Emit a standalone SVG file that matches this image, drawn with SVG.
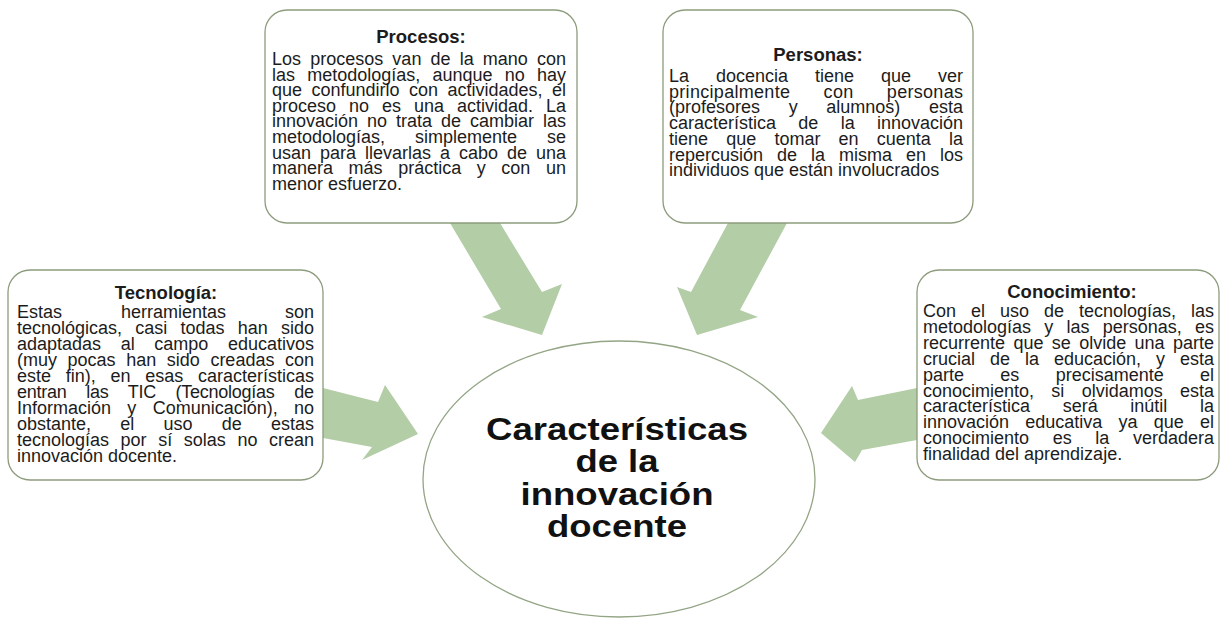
<svg xmlns="http://www.w3.org/2000/svg" width="1222" height="618" viewBox="0 0 1222 618">
<style>
.box{fill:#ffffff;stroke:#8c9c7c;stroke-width:1.3}
.arrow{fill:#b3cda6}
.ell{fill:#ffffff;stroke:#93a585;stroke-width:1.3}
.t{font-family:"Liberation Sans",Arial,sans-serif;font-size:18px;fill:#1c1c1c}
.h{font-family:"Liberation Sans",Arial,sans-serif;font-size:18.5px;font-weight:bold;fill:#1c1c1c;text-anchor:middle}
.c{font-family:"Liberation Sans",Arial,sans-serif;font-size:31px;font-weight:bold;fill:#111111;text-anchor:middle}
</style>
<rect width="1222" height="618" fill="#ffffff"/>
<g id="connectors">
<polygon class="arrow" points="450,223 500,223 542,292 562,284 542,335 482,317 501,309"/>
<polygon class="arrow" points="728,223 787,223 740,310 758,317 697,335 677,287 691,292"/>
<polygon class="arrow" points="323,388 378,402 385,385 418,434 362,460 372,447 323,438"/>
<polygon class="arrow" points="917,388 858,400 852,386 821,433 855,462 862,450 917,440"/>
</g>
<g id="centro">
<ellipse class="ell" cx="619" cy="479" rx="196" ry="138"/>
<text class="c" x="617" y="440" textLength="262" lengthAdjust="spacingAndGlyphs">Características</text>
<text class="c" x="617" y="472" textLength="83" lengthAdjust="spacingAndGlyphs">de la</text>
<text class="c" x="617" y="505" textLength="193" lengthAdjust="spacingAndGlyphs">innovación</text>
<text class="c" x="617" y="537" textLength="140" lengthAdjust="spacingAndGlyphs">docente</text>
</g>
<g id="procesos">
<rect class="box" x="265" y="10" width="312" height="213" rx="22"/>
<text class="h" x="421" y="43">Procesos:</text>
<text class="t" x="272" y="65" textLength="294" style="word-spacing:4.1px">Los procesos van de la mano con</text>
<text class="t" x="272" y="80.6" textLength="294" style="word-spacing:7.2px">las metodologías, aunque no hay</text>
<text class="t" x="272" y="96.2" textLength="294" style="word-spacing:4.5px">que confundirlo con actividades, el</text>
<text class="t" x="272" y="111.8" textLength="294" style="word-spacing:8px">proceso no es una actividad. La</text>
<text class="t" x="272" y="127.4" textLength="294" style="word-spacing:4px">innovación no trata de cambiar las</text>
<text class="t" x="272" y="143" textLength="294" style="word-spacing:25px">metodologías, simplemente se</text>
<text class="t" x="272" y="158.6" textLength="294" style="word-spacing:4px">usan para llevarlas a cabo de una</text>
<text class="t" x="272" y="174.2" textLength="294" style="word-spacing:10.6px">manera más práctica y con un</text>
<text class="t" x="272" y="189.8">menor esfuerzo.</text>
</g>
<g id="personas">
<rect class="box" x="663" y="10" width="310" height="213" rx="22"/>
<text class="h" x="818" y="61">Personas:</text>
<text class="t" x="669" y="82" textLength="294" style="word-spacing:22px">La docencia tiene que ver</text>
<text class="t" x="669" y="97.7" textLength="294" style="word-spacing:28px">principalmente con personas</text>
<text class="t" x="669" y="113.4" textLength="294" style="word-spacing:23.6px">(profesores y alumnos) esta</text>
<text class="t" x="669" y="129.1" textLength="294" style="word-spacing:17.3px">característica de la innovación</text>
<text class="t" x="669" y="144.8" textLength="294" style="word-spacing:13.2px">tiene que tomar en cuenta la</text>
<text class="t" x="669" y="160.5" textLength="294" style="word-spacing:9px">repercusión de la misma en los</text>
<text class="t" x="669" y="176.2">individuos que están involucrados</text>
</g>
<g id="tecnologia">
<rect class="box" x="8" y="270" width="315" height="210" rx="22"/>
<text class="h" x="166" y="299">Tecnología:</text>
<text class="t" x="17" y="318" textLength="297" style="word-spacing:54px">Estas herramientas son</text>
<text class="t" x="17" y="334" textLength="297" style="word-spacing:8.2px">tecnológicas, casi todas han sido</text>
<text class="t" x="17" y="350" textLength="297" style="word-spacing:14.6px">adaptadas al campo educativos</text>
<text class="t" x="17" y="366" textLength="297" style="word-spacing:5.6px">(muy pocas han sido creadas con</text>
<text class="t" x="17" y="382" textLength="297" style="word-spacing:9.7px">este fin), en esas características</text>
<text class="t" x="17" y="398" textLength="297" style="word-spacing:14.9px">entran las TIC (Tecnologías de</text>
<text class="t" x="17" y="414" textLength="297" style="word-spacing:11.3px">Información y Comunicación), no</text>
<text class="t" x="17" y="430" textLength="297" style="word-spacing:24.2px">obstante, el uso de estas</text>
<text class="t" x="17" y="446" textLength="297" style="word-spacing:6.6px">tecnologías por sí solas no crean</text>
<text class="t" x="17" y="462">innovación docente.</text>
</g>
<g id="conocimiento">
<rect class="box" x="917" y="270" width="302" height="210" rx="22"/>
<text class="h" x="1072" y="298">Conocimiento:</text>
<text class="t" x="923" y="317" textLength="291" style="word-spacing:10px">Con el uso de tecnologías, las</text>
<text class="t" x="923" y="332.9" textLength="291" style="word-spacing:8.2px">metodologías y las personas, es</text>
<text class="t" x="923" y="348.8" textLength="291" style="word-spacing:3.4px">recurrente que se olvide una parte</text>
<text class="t" x="923" y="364.7" textLength="291" style="word-spacing:10px">crucial de la educación, y esta</text>
<text class="t" x="923" y="380.6" textLength="291" style="word-spacing:31.3px">parte es precisamente el</text>
<text class="t" x="923" y="396.5" textLength="291" style="word-spacing:12.3px">conocimiento, si olvidamos esta</text>
<text class="t" x="923" y="412.4" textLength="291" style="word-spacing:27.7px">característica será inútil la</text>
<text class="t" x="923" y="428.3" textLength="291" style="word-spacing:11.2px">innovación educativa ya que el</text>
<text class="t" x="923" y="444.2" textLength="291" style="word-spacing:18.6px">conocimiento es la verdadera</text>
<text class="t" x="923" y="460.1">finalidad del aprendizaje.</text>
</g>
</svg>
